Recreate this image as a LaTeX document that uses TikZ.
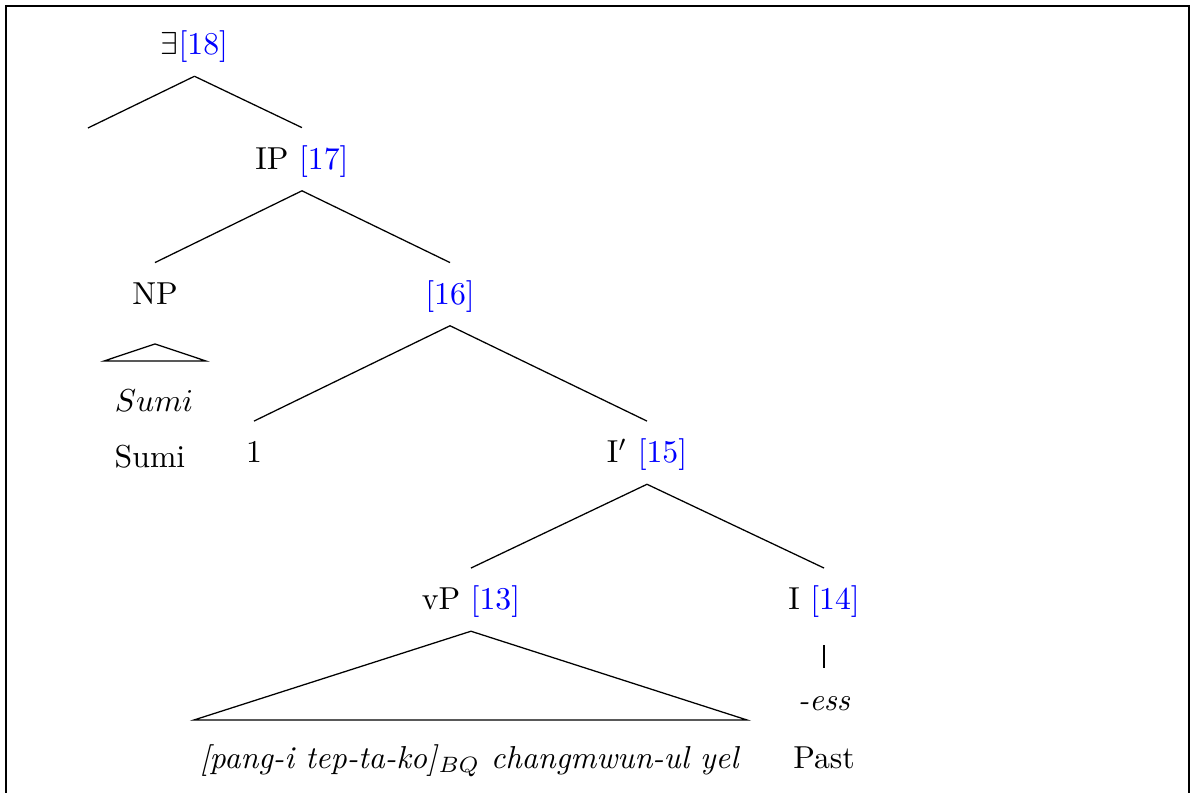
\documentclass[tikz,border=0pt]{standalone}
\usepackage{amsthm,amssymb,amsmath}
\usepackage{tikz}
\pgfdeclarelayer{bg}
\pgfsetlayers{bg,main}
\tikzset{
        lbl/.style={anchor=base, inner xsep=1pt, inner ysep=4pt, text height=9pt, text depth=2.5pt}
}
\newcommand{\ix}[1]{\textcolor{blue}{[#1]}}

\begin{document}
\begin{tikzpicture}
        \useasboundingbox (0cm, 0cm) rectangle (13.219000cm, -8.779000cm);
        % frame, open at the bottom
        \draw (0.066000cm, -9.000000cm) -- (0.066000cm, -0.066000cm) -- (13.163000cm, -0.066000cm) -- (13.163000cm, -9.000000cm);
        \node (v0) [lbl] at (2.153000cm, -0.609000cm) {$\exists$\ix{18}};
        \coordinate (c0) at (0.974000cm, -1.417000cm);
        \node (v1) [lbl] at (3.343000cm, -1.877000cm) {IP \ix{17}};
        \node (v2) [lbl] at (1.716000cm, -3.371000cm) {NP};
        \node (v3) [lbl] at (4.982000cm, -3.371000cm) {\ix{16}};
        \node (v4) [lbl] at (2.812000cm, -5.126000cm) {1};
        \node (v5) [lbl] at (7.163000cm, -5.126000cm) {I$'$ \ix{15}};
        \node (v6) [lbl] at (5.214000cm, -6.753000cm) {vP \ix{13}};
        \node (v7) [lbl] at (9.123000cm, -6.753000cm) {I \ix{14}};
        \node (v8) [lbl] at (1.705000cm, -4.561000cm) {$Sumi$};
        \node (v9) [lbl] at (1.661000cm, -5.181000cm) {Sumi};
        \node (v10) [lbl] at (5.203000cm, -8.503000cm) {\textit{[pang-i tep-ta-ko]}$_{BQ}$ \textit{changmwun-ul yel}};
        \node (v11) [lbl] at (9.123000cm, -7.861000cm) {\textit{-ess}};
        \node (v12) [lbl] at (9.123000cm, -8.503000cm) {Past};
        % roof corners
        \coordinate (r0) at (1.716000cm, -3.808000cm);
        \coordinate (r1) at (1.151000cm, -3.997000cm);
        \coordinate (r2) at (2.281000cm, -3.997000cm);
        \coordinate (r3) at (2.148000cm, -7.971000cm);
        \coordinate (r4) at (8.270000cm, -7.971000cm);
        \begin{pgfonlayer}{bg}
                \draw (v0.south) edge (c0);
                \draw (v0.south) edge (v1.north);
                \draw (v1.south) edge (v2.north);
                \draw (v1.south) edge (v3.north);
                \draw (v3.south) edge (v4.north);
                \draw (v3.south) edge (v5.north);
                \draw (v5.south) edge (v6.north);
                \draw (v5.south) edge (v7.north);
                \draw ([yshift=-4.4pt]v7.south) edge (v11.north);
                \draw (r0) -- (r1) -- (r2) -- cycle;
                \draw (v6.south) -- (r3) -- (r4) -- cycle;
        \end{pgfonlayer}
\end{tikzpicture}
\end{document}
